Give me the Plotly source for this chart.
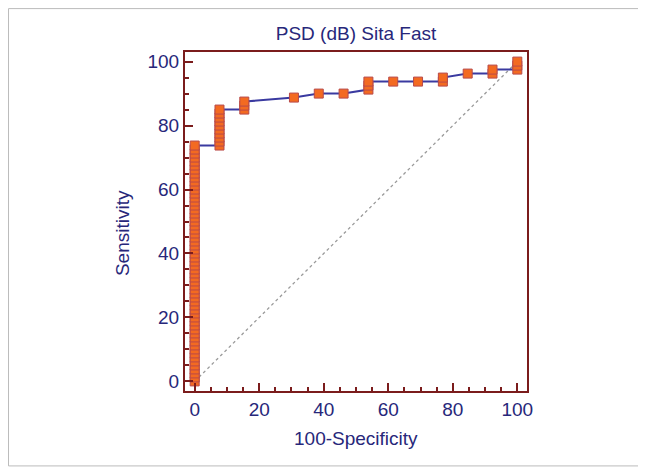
import plotly.graph_objects as go

# ROC points (100-Specificity, Sensitivity) in percent
fpr = [0] * 60 + [7.69] * 10 + [15.38] * 3 + [30.77, 38.46, 46.15] + [53.85] * 3 \
      + [61.54, 69.23] + [76.92] * 2 + [84.62] + [92.31] * 2 + [100] * 3
tpr = [0, 1.25, 2.5, 3.75, 5, 6.25, 7.5, 8.75, 10, 11.25, 12.5, 13.75, 15, 16.25, 17.5,
       18.75, 20, 21.25, 22.5, 23.75, 25, 26.25, 27.5, 28.75, 30, 31.25, 32.5, 33.75,
       35, 36.25, 37.5, 38.75, 40, 41.25, 42.5, 43.75, 45, 46.25, 47.5, 48.75, 50,
       51.25, 52.5, 53.75, 55, 56.25, 57.5, 58.75, 60, 61.25, 62.5, 63.75, 65, 66.25,
       67.5, 68.75, 70, 71.25, 72.5, 73.75,
       73.75, 75, 76.25, 77.5, 78.75, 80, 81.25, 82.5, 83.75, 85,
       85, 86.25, 87.5,
       88.75, 90, 90,
       91.25, 92.5, 93.75,
       93.75, 93.75,
       93.75, 95,
       96.25,
       96.25, 97.5,
       97.5, 98.75, 100]
diag = [0, 100]
ticks = [0, 20, 40, 60, 80, 100]

navy = '#27277a'
frame = '#7b1c1c'
font = 'Liberation Sans, Arial, sans-serif'

fig = go.Figure()
fig.add_trace(go.Scatter(x=diag, y=diag, mode='lines',
                         line=dict(color='#9a9a9a', width=1.3, dash='dot'),
                         hoverinfo='skip'))
fig.add_trace(go.Scatter(x=fpr, y=tpr, mode='lines+markers',
                         line=dict(color='#3a3aa0', width=2),
                         marker=dict(symbol='square', size=9, color='#f36a21',
                                     line=dict(color='#b84a4a', width=1))))

axis = dict(range=[-3, 103], tickvals=ticks, showgrid=False, zeroline=False,
            showline=True, mirror=True, linecolor=frame, linewidth=2,
            ticks='inside', ticklen=8, tickwidth=2, tickcolor=frame,
            minor=dict(dtick=5, tick0=0, ticks='inside', ticklen=4,
                       tickwidth=1.5, tickcolor=frame),
            tickfont=dict(family=font, size=19, color=navy))

# the page adds an 8px body margin, so everything is pulled up/left by 8px
fig.update_layout(
    width=646, height=472,
    margin=dict(l=177, r=127, t=44, b=89),
    paper_bgcolor='white', plot_bgcolor='white',
    showlegend=False,
    title=dict(text='PSD (dB) Sita Fast', x=0.5, xref='paper', y=1 - 25 / 472,
               yanchor='middle', font=dict(family=font, size=19, color=navy)),
    xaxis=axis, yaxis=axis,
    annotations=[
        dict(text='100-Specificity', x=0.5, y=-0.139, xref='paper', yref='paper',
             showarrow=False, xanchor='center', yanchor='middle',
             font=dict(family=font, size=19, color=navy)),
        dict(text='Sensitivity', x=-0.184, y=0.466, xref='paper', yref='paper',
             showarrow=False, textangle=-90, xanchor='center', yanchor='middle',
             font=dict(family=font, size=19, color=navy)),
    ],
    shapes=[dict(type='rect', xref='paper', yref='paper', x0=-0.516, x1=1.339,
                 y0=-0.221, y1=1.128, line=dict(color='#bbbbbb', width=1))],
)

fig.write_html('out.html')
